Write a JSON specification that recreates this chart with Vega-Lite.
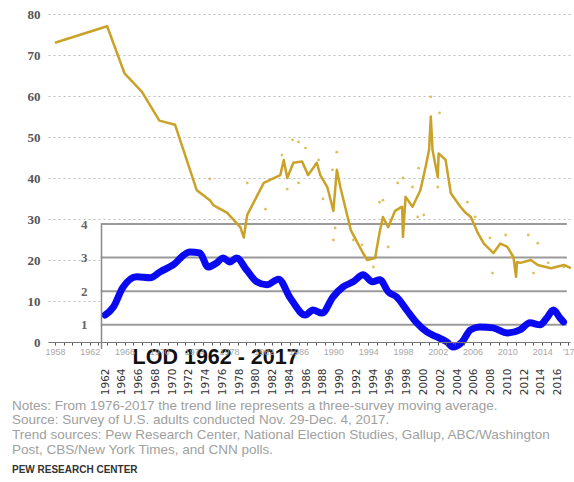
{
  "$schema": "https://vega.github.io/schema/vega-lite/v6.json",
  "width": 522,
  "height": 328,
  "autosize": {"type": "none"},
  "padding": {"left": 48, "top": 14, "right": 4, "bottom": 140},
  "background": "white",
  "config": {"view": {"stroke": null}},
  "title": {
    "text": [
      "Notes: From 1976-2017 the trend line represents a three-survey moving average.",
      "Source: Survey of U.S. adults conducted Nov. 29-Dec. 4, 2017.",
      "Trend sources: Pew Research Center, National Election Studies, Gallup, ABC/Washington",
      "Post, CBS/New York Times, and CNN polls."
    ],
    "subtitle": "PEW RESEARCH CENTER",
    "orient": "bottom",
    "anchor": "start",
    "frame": "group",
    "dx": -36,
    "offset": 4,
    "font": "Liberation Sans",
    "fontSize": 13.5,
    "fontWeight": "normal",
    "color": "#a0a0a0",
    "lineHeight": 14.7,
    "subtitleFont": "Liberation Sans",
    "subtitleFontSize": 10,
    "subtitleFontWeight": "bold",
    "subtitleColor": "#333333",
    "subtitlePadding": 9
  },
  "datasets": {
    "trend": [
      {"year": 1958, "trust": 73},
      {"year": 1964, "trust": 77},
      {"year": 1966, "trust": 65.5},
      {"year": 1968, "trust": 61},
      {"year": 1970, "trust": 54},
      {"year": 1971.8, "trust": 53},
      {"year": 1974.3, "trust": 37},
      {"year": 1975.8, "trust": 34.6},
      {"year": 1976.2, "trust": 33.4},
      {"year": 1977.8, "trust": 31.5},
      {"year": 1979.3, "trust": 28},
      {"year": 1979.7, "trust": 25.5},
      {"year": 1980.1, "trust": 31},
      {"year": 1982, "trust": 38.8},
      {"year": 1983.9, "trust": 40.7},
      {"year": 1984.3, "trust": 44.4},
      {"year": 1984.7, "trust": 40},
      {"year": 1985.4, "trust": 43.7},
      {"year": 1986.4, "trust": 44},
      {"year": 1987.1, "trust": 40.7},
      {"year": 1988.1, "trust": 43.7},
      {"year": 1988.5, "trust": 40.7},
      {"year": 1989.3, "trust": 37.8},
      {"year": 1990, "trust": 32},
      {"year": 1990.4, "trust": 42},
      {"year": 1990.8, "trust": 37.8},
      {"year": 1992, "trust": 27.3},
      {"year": 1993.4, "trust": 21.7},
      {"year": 1993.9, "trust": 20},
      {"year": 1994.8, "trust": 20.5},
      {"year": 1995.3, "trust": 26.6},
      {"year": 1995.7, "trust": 30.5},
      {"year": 1996.3, "trust": 28},
      {"year": 1997.1, "trust": 32},
      {"year": 1997.9, "trust": 33},
      {"year": 1998, "trust": 25.6},
      {"year": 1998.3, "trust": 35.4},
      {"year": 1999.1, "trust": 33},
      {"year": 2000, "trust": 37},
      {"year": 2000.6, "trust": 42.7},
      {"year": 2001, "trust": 46.8},
      {"year": 2001.2, "trust": 55},
      {"year": 2001.4, "trust": 46.8},
      {"year": 2002, "trust": 40.2},
      {"year": 2002.1, "trust": 46},
      {"year": 2002.9, "trust": 44.4},
      {"year": 2003.5, "trust": 36.3},
      {"year": 2004.6, "trust": 33},
      {"year": 2005.2, "trust": 31.5},
      {"year": 2005.8, "trust": 30.5},
      {"year": 2006.6, "trust": 26.6},
      {"year": 2007.3, "trust": 24},
      {"year": 2008.4, "trust": 21.7},
      {"year": 2009.2, "trust": 24},
      {"year": 2010, "trust": 23.2},
      {"year": 2010.7, "trust": 20.7},
      {"year": 2011, "trust": 15.9},
      {"year": 2011.1, "trust": 19.5},
      {"year": 2011.5, "trust": 19.3},
      {"year": 2012.7, "trust": 20},
      {"year": 2013.5, "trust": 18.8},
      {"year": 2015, "trust": 18},
      {"year": 2016.5, "trust": 18.8},
      {"year": 2017.3, "trust": 18}
    ],
    "polls": [
      {"year": 1975.8, "trust": 39.8},
      {"year": 1980.1, "trust": 38.8},
      {"year": 1982.2, "trust": 32.4},
      {"year": 1984.1, "trust": 45.6},
      {"year": 1984.7, "trust": 37.3},
      {"year": 1985.3, "trust": 49.3},
      {"year": 1986, "trust": 48.8},
      {"year": 1986.8, "trust": 47.3},
      {"year": 1986, "trust": 38.8},
      {"year": 1988.3, "trust": 44.4},
      {"year": 1988.8, "trust": 34.9},
      {"year": 1990.4, "trust": 46.3},
      {"year": 1989.9, "trust": 42},
      {"year": 1990.2, "trust": 27.8},
      {"year": 1990, "trust": 24.9},
      {"year": 1992.3, "trust": 24.9},
      {"year": 1993.3, "trust": 23.7},
      {"year": 1994.6, "trust": 18.3},
      {"year": 1995.3, "trust": 34.1},
      {"year": 1995.7, "trust": 34.6},
      {"year": 1996.3, "trust": 23.2},
      {"year": 1997.4, "trust": 38.8},
      {"year": 1998, "trust": 40},
      {"year": 1999.1, "trust": 37.8},
      {"year": 1999.8, "trust": 42.4},
      {"year": 1999.7, "trust": 30.5},
      {"year": 2000.4, "trust": 31},
      {"year": 2001.2, "trust": 59.8},
      {"year": 2002.2, "trust": 55.9},
      {"year": 2002, "trust": 37.8},
      {"year": 2005.4, "trust": 34.1},
      {"year": 2006.3, "trust": 30.5},
      {"year": 2008, "trust": 25.4},
      {"year": 2008.3, "trust": 16.8},
      {"year": 2009.8, "trust": 26.1},
      {"year": 2010.4, "trust": 20.7},
      {"year": 2012.4, "trust": 26.1},
      {"year": 2013.5, "trust": 24.1},
      {"year": 2013, "trust": 16.8},
      {"year": 2014.7, "trust": 19.3},
      {"year": 2016.5, "trust": 18.3}
    ],
    "lod": [
      {"year": 1962, "lod": 1.29},
      {"year": 1963, "lod": 1.53},
      {"year": 1964.1, "lod": 2.1},
      {"year": 1965.8, "lod": 2.43},
      {"year": 1967.4, "lod": 2.4},
      {"year": 1968.6, "lod": 2.58},
      {"year": 1970.1, "lod": 2.78},
      {"year": 1972.1, "lod": 3.17},
      {"year": 1973.3, "lod": 3.14},
      {"year": 1974.3, "lod": 2.72},
      {"year": 1975.3, "lod": 2.84},
      {"year": 1976.1, "lod": 2.99},
      {"year": 1976.9, "lod": 2.87},
      {"year": 1977.7, "lod": 2.99},
      {"year": 1978.9, "lod": 2.63},
      {"year": 1980.1, "lod": 2.28},
      {"year": 1981.3, "lod": 2.19},
      {"year": 1982.7, "lod": 2.36},
      {"year": 1984.1, "lod": 1.8},
      {"year": 1985.9, "lod": 1.29},
      {"year": 1986.8, "lod": 1.44},
      {"year": 1987.9, "lod": 1.35},
      {"year": 1989.2, "lod": 1.83},
      {"year": 1990.4, "lod": 2.13},
      {"year": 1991.6, "lod": 2.28},
      {"year": 1992.8, "lod": 2.49},
      {"year": 1993.9, "lod": 2.28},
      {"year": 1994.8, "lod": 2.34},
      {"year": 1995.8, "lod": 1.98},
      {"year": 1996.8, "lod": 1.83},
      {"year": 1998, "lod": 1.44},
      {"year": 1999.2, "lod": 1.06},
      {"year": 2000.4, "lod": 0.79},
      {"year": 2001.6, "lod": 0.64},
      {"year": 2002.8, "lod": 0.49},
      {"year": 2003.5, "lod": 0.34},
      {"year": 2004.6, "lod": 0.49},
      {"year": 2005.6, "lod": 0.85},
      {"year": 2006.7, "lod": 0.94},
      {"year": 2008.3, "lod": 0.91},
      {"year": 2010, "lod": 0.76},
      {"year": 2011.5, "lod": 0.85},
      {"year": 2012.7, "lod": 1.06},
      {"year": 2013.9, "lod": 1.0},
      {"year": 2014.7, "lod": 1.2},
      {"year": 2015.5, "lod": 1.44},
      {"year": 2016.3, "lod": 1.2},
      {"year": 2016.7, "lod": 1.09}
    ],
    "lodgrid": [{"v": 1}, {"v": 2}, {"v": 3}, {"v": 4}],
    "lodtitle": [{"label": "LOD 1962 - 2017"}]
  },
  "resolve": {"scale": {"x": "independent", "y": "independent"}, "axis": {"x": "independent", "y": "independent"}},
  "layer": [
    {
      "layer": [
        {
          "data": {"name": "lodgrid"},
          "mark": {"type": "rect", "color": "white"},
          "encoding": {
            "x": {
              "datum": 1961.5,
              "type": "quantitative",
              "scale": {"domain": [1962, 2017], "range": [57, 518], "nice": false, "zero": false},
              "axis": {
                "orient": "bottom",
                "title": null,
                "values": [1962, 1966, 1970, 1974, 1978, 1982, 1986, 1990, 1994, 1998, 2002, 2006, 2010, 2014],
                "format": "d",
                "labelAngle": 270,
                "labelAlign": "right",
                "labelBaseline": "middle",
                "labelPadding": 26,
                "labelFont": "DejaVu Sans",
                "labelFontSize": 10.5,
                "labelColor": "#333333",
                "labelSeparation": 0,
                "labelFlush": false,
                "ticks": false,
                "domain": false,
                "grid": false,
                "zindex": 1
              }
            },
            "x2": {"datum": 2017.6},
            "y": {"datum": 0.3, "type": "quantitative", "scale": {"domain": [0.3, 4], "range": [334.4, 210], "nice": false, "zero": false}},
            "y2": {"datum": 4}
          }
        },
        {
          "data": {"name": "lodgrid"},
          "mark": {"type": "rule", "color": "#9a9a9a", "strokeWidth": 2},
          "encoding": {
            "x": {"datum": 1961.5, "type": "quantitative"},
            "x2": {"datum": 2017.1},
            "y": {"field": "v", "type": "quantitative"}
          }
        },
        {
          "data": {"name": "lod"},
          "mark": {"type": "line", "color": "#0a0af0", "strokeWidth": 7, "strokeJoin": "round", "strokeCap": "round", "interpolate": "monotone"},
          "encoding": {
            "x": {"field": "year", "type": "quantitative"},
            "y": {
              "field": "lod",
              "type": "quantitative",
              "axis": {
                "orient": "left",
                "title": null,
                "offset": -53,
                "values": [1, 2, 3, 4],
                "format": "d",
                "labelPadding": 14,
                "labelFont": "Liberation Serif",
                "labelFontSize": 13,
                "labelFontWeight": "bold",
                "labelColor": "#666666",
                "ticks": false,
                "domain": true,
                "domainColor": "#8a8a8a",
                "domainWidth": 1.5,
                "grid": false,
                "zindex": 1
              }
            }
          }
        }
      ]
    },
    {
      "data": {"name": "lodtitle"},
      "mark": {"type": "text", "font": "Liberation Sans", "fontSize": 21.5, "fontWeight": "bold", "color": "#111111", "align": "center", "baseline": "middle"},
      "encoding": {
        "x": {
          "datum": 1975.2,
          "type": "quantitative",
          "scale": {"domain": [1962, 2017], "range": [57, 518], "nice": false, "zero": false},
          "axis": {
            "orient": "bottom",
            "title": null,
            "values": [1964, 1968, 1972, 1976, 1980, 1984, 1988, 1992, 1996, 2000, 2004, 2008, 2012, 2016],
            "format": "d",
            "labelAngle": 270,
            "labelAlign": "right",
            "labelBaseline": "middle",
            "labelPadding": 26,
            "labelFont": "DejaVu Sans",
            "labelFontSize": 10.5,
            "labelColor": "#333333",
            "labelSeparation": 0,
            "labelFlush": false,
            "ticks": false,
            "domain": false,
            "grid": false,
            "zindex": 1
          }
        },
        "y": {"datum": 0.0, "type": "quantitative", "scale": {"domain": [0.3, 4], "range": [334.4, 210], "nice": false, "zero": false}, "axis": null},
        "text": {"field": "label"}
      }
    },
    {
      "data": {"name": "trend"},
      "mark": {"type": "line", "color": "#c9a227", "strokeWidth": 2.5, "strokeJoin": "round"},
      "encoding": {
        "x": {
          "field": "year",
          "type": "quantitative",
          "scale": {"domain": [1957.2, 2017.2], "nice": false, "zero": false},
          "axis": {
            "orient": "bottom",
            "title": null,
            "values": [1958, 1959, 1960, 1961, 1962, 1963, 1964, 1965, 1966, 1967, 1968, 1969, 1970, 1971, 1972, 1973, 1974, 1975, 1976, 1977, 1978, 1979, 1980, 1981, 1982, 1983, 1984, 1985, 1986, 1987, 1988, 1989, 1990, 1991, 1992, 1993, 1994, 1995, 1996, 1997, 1998, 1999, 2000, 2001, 2002, 2003, 2004, 2005, 2006, 2007, 2008, 2009, 2010, 2011, 2012, 2013, 2014, 2015, 2016, 2017],
            "labels": false,
            "tickSize": 3,
            "tickColor": "#555555",
            "domainColor": "#777777",
            "grid": false,
            "zindex": 1
          }
        },
        "y": {
          "field": "trust",
          "type": "quantitative",
          "scale": {"domain": [0, 80], "nice": false},
          "axis": {
            "orient": "left",
            "title": null,
            "values": [0, 10, 20, 30, 40, 50, 60, 70, 80],
            "labelPadding": 8,
            "labelFont": "Liberation Serif",
            "labelFontSize": 13,
            "labelFontWeight": "bold",
            "labelColor": "#555555",
            "ticks": false,
            "domain": false,
            "grid": true,
            "gridColor": "#bdbdbd",
            "gridDash": [2, 3],
            "gridWidth": 1
          }
        }
      }
    },
    {
      "data": {"name": "polls"},
      "mark": {"type": "point", "filled": true, "color": "#d6b444", "size": 8, "opacity": 0.85},
      "encoding": {
        "x": {
          "field": "year",
          "type": "quantitative",
          "scale": {"domain": [1957.2, 2017.2], "nice": false, "zero": false},
          "axis": {
            "orient": "bottom",
            "title": null,
            "values": [1958, 1962, 1966, 1970, 1974, 1978, 1982, 1986, 1990, 1994, 1998, 2002, 2006, 2010, 2014, 2017],
            "labelExpr": "datum.value == 2017 ? \"'17\" : datum.label",
            "format": "d",
            "labelFlush": false,
            "labelFont": "Liberation Sans",
            "labelFontSize": 9,
            "labelColor": "#a8a8a8",
            "labelPadding": 5,
            "ticks": false,
            "domain": false,
            "grid": false,
            "zindex": 1
          }
        },
        "y": {"field": "trust", "type": "quantitative", "scale": {"domain": [0, 80], "nice": false}, "axis": null}
      }
    }
  ]
}
